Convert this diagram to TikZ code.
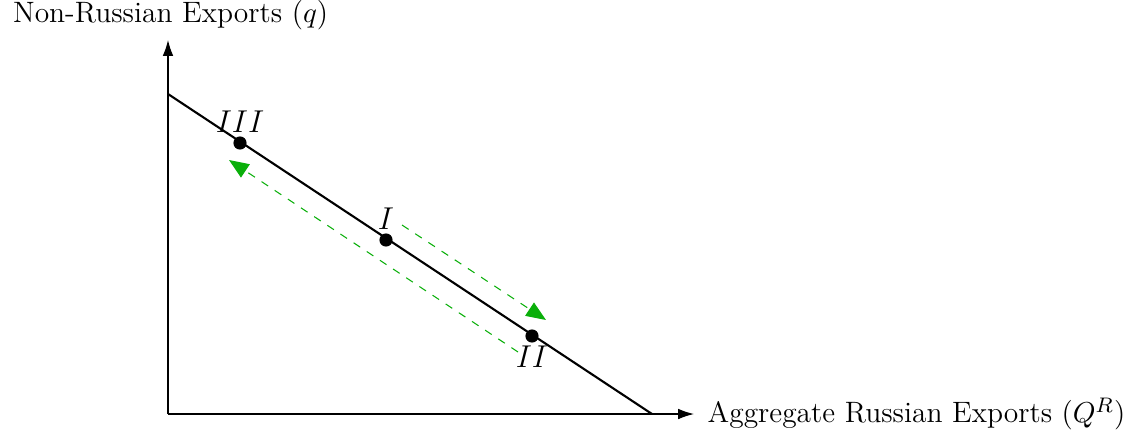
\documentclass[tikz,border=0pt]{standalone}
\usetikzlibrary{arrows.meta}
\definecolor{arrgreen}{RGB}{10,175,10}
\begin{document}
\begin{tikzpicture}[x=0.38pt,y=-0.38pt,
  axis/.style={line width=0.45pt,-{Latex[length=6pt,width=4pt]}},
  dot/.style={circle,fill=black,inner sep=0pt,minimum size=5pt},
  mainline/.style={line width=0.8pt},
  movearrow/.style={arrgreen,dashed,line width=0.4pt,-{Triangle[length=7.5pt,width=6pt]}},
  axlbl/.style={font=\fontsize{11.2}{13}\selectfont,inner sep=0pt},
  lbl/.style={font=\large}]
\useasboundingbox (0,0) rectangle (1135,438);
\coordinate (O) at (168,414);
\coordinate (ytop) at (168,40);
\coordinate (xend) at (694,414);
\coordinate (lstart) at (168,94);
\coordinate (lend) at (652,414);
\draw[axis] (O) -- (ytop);
\draw[axis] (O) -- (xend);
\node[axlbl,anchor=south,yshift=3.5pt,xshift=1pt] (ylab) at (ytop) {Non-Russian Exports ($q$)};
\node[axlbl,anchor=west,xshift=5pt] (xlab) at (xend) {Aggregate Russian Exports ($Q^R$)};
\draw[mainline] (lstart) -- (lend);
\node[dot] (pIII) at (240,143) {};
\node[dot] (pI) at (386,240) {};
\node[dot] (pII) at (532,336) {};
\node[lbl,above,inner sep=1pt] (lIII) at (pIII.north) {$III$};
\node[lbl,above,inner sep=1pt] (lI) at (pI.north) {$I$};
\node[lbl,below,inner sep=1pt] (lII) at (pII.south) {$II$};
\coordinate (a1s) at (402,225);
\coordinate (a1e) at (546,320);
\coordinate (a2s) at (518,352);
\coordinate (a2e) at (229,160);
\draw[movearrow] (a1s) -- (a1e);
\draw[movearrow] (a2s) -- (a2e);
\end{tikzpicture}
\end{document}
